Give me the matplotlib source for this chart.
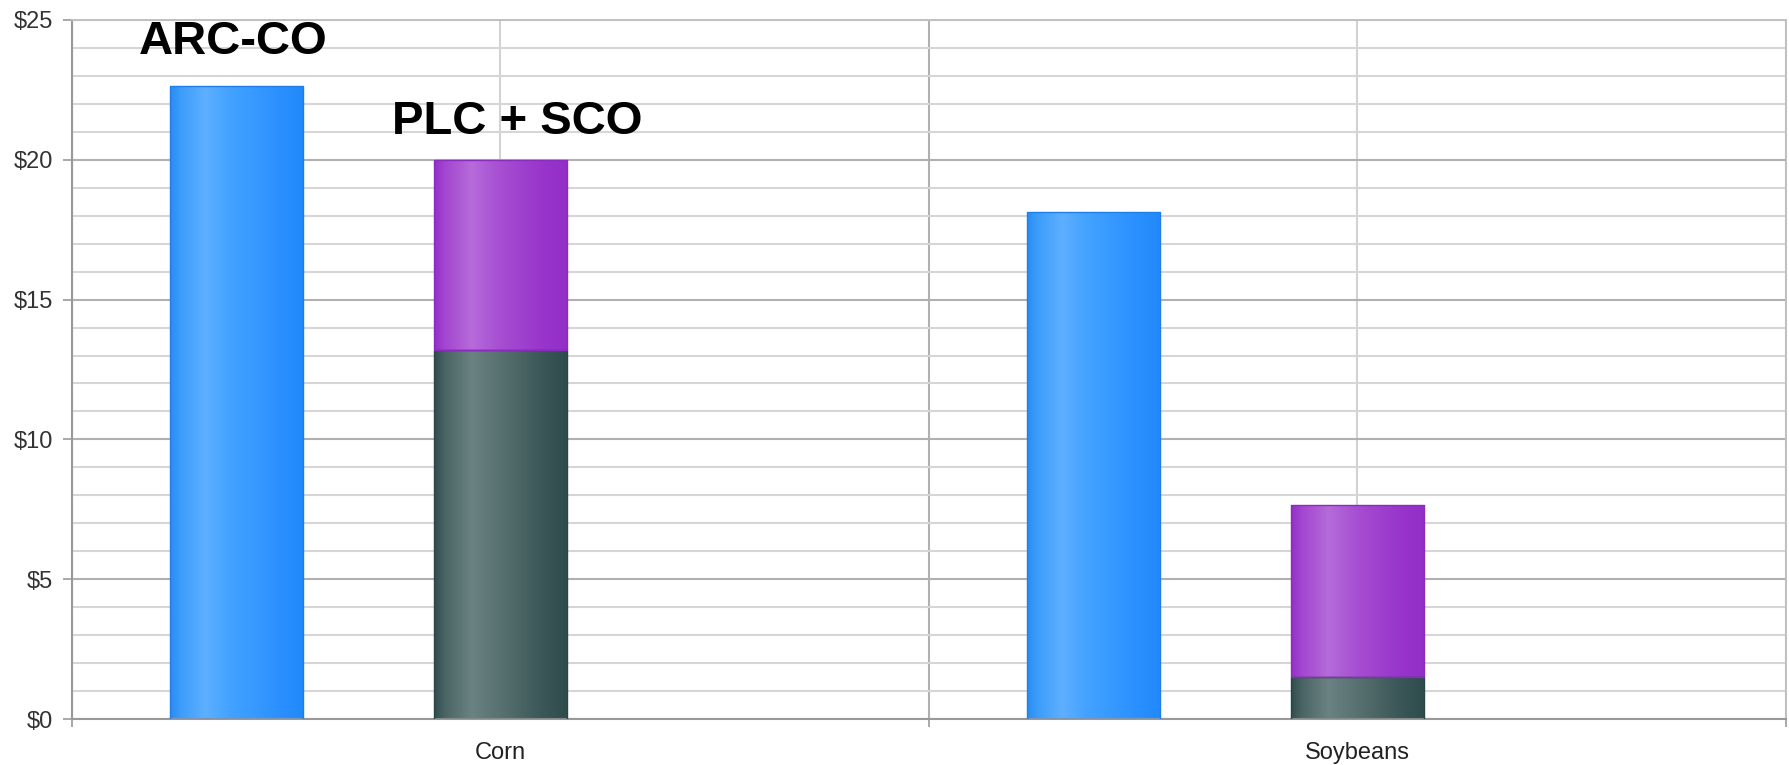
import numpy as np
import matplotlib
matplotlib.use("Agg")
import matplotlib.pyplot as plt
from matplotlib.colors import LinearSegmentedColormap
from matplotlib.ticker import MultipleLocator, FixedLocator, FixedFormatter

# ---- data -------------------------------------------------------------
crops = ["Corn", "Soybeans"]
arc_co = [22.65, 18.15]          # ARC-CO payment, $/acre
plc_base = [13.2, 1.52]          # PLC portion of the stacked bar
sco_add = [6.8, 6.13]            # SCO added on top of PLC
program_labels = ["ARC-CO", "PLC + SCO"]
y_ticks = [0, 5, 10, 15, 20, 25]
y_tick_labels = ["$0", "$5", "$10", "$15", "$20", "$25"]

plt.rcParams["font.family"] = ["Liberation Sans", "DejaVu Sans"]

fig = plt.figure(figsize=(17.9, 7.65), dpi=100)
ax = fig.add_axes([72 / 1790, 46 / 765, 1714 / 1790, 699 / 765])

x = np.arange(len(crops))
bar_w = 0.156
arc_off = -0.308


def shaded(stops):
    return LinearSegmentedColormap.from_list("shade", stops)


blue_shade = shaded([(0.0, "#2a8cf2"), (0.08, "#3d9dfb"), (0.26, "#5eafff"),
                     (0.45, "#43a2ff"), (0.8, "#2c91ff"), (1.0, "#2189fa")])
purple_shade = shaded([(0.0, "#9430c9"), (0.08, "#a346d0"), (0.28, "#b56bd9"),
                       (0.5, "#a64ed2"), (0.82, "#9834cb"), (1.0, "#922fc6")])
slate_shade = shaded([(0.0, "#2f4d4d"), (0.08, "#4a6464"), (0.28, "#6b8282"),
                      (0.5, "#587070"), (0.82, "#3a5656"), (1.0, "#2f4c4c")])

grad = np.linspace(0, 1, 256).reshape(1, -1)


def paint(bars, cmap, edge):
    for p in bars:
        p.set_facecolor("none")
        p.set_edgecolor(edge)
        p.set_linewidth(1.0)
        x0, y0 = p.get_x(), p.get_y()
        w, h = p.get_width(), p.get_height()
        im = ax.imshow(grad, cmap=cmap, aspect="auto", interpolation="bilinear",
                       extent=[x0, x0 + w, y0, y0 + h], zorder=2)
        im.set_clip_path(p)


b_arc = ax.bar(x + arc_off, arc_co, bar_w, zorder=3)
b_plc = ax.bar(x, plc_base, bar_w, zorder=3)
b_sco = ax.bar(x, sco_add, bar_w, bottom=plc_base, zorder=3)
paint(b_arc, blue_shade, "#1f7fe6")
paint(b_plc, slate_shade, "#2b4545")
paint(b_sco, purple_shade, "#8a2cbd")

# program labels above the corn bars
ax.annotate(program_labels[0], xy=(x[0] + arc_off, arc_co[0]),
            xytext=(-2.7, 22.7), textcoords="offset points",
            ha="center", va="baseline", fontsize=34, fontweight="bold",
            color="black", zorder=5)
ax.annotate(program_labels[1], xy=(x[0], plc_base[0] + sco_add[0]),
            xytext=(12.4, 18.3), textcoords="offset points",
            ha="center", va="baseline", fontsize=34, fontweight="bold",
            color="black", zorder=5)

# ---- axes -------------------------------------------------------------
ax.set_xlim(-0.5, len(crops) - 0.5)
ax.set_ylim(0, 25)

ax.yaxis.set_major_locator(FixedLocator(y_ticks))
ax.yaxis.set_major_formatter(FixedFormatter(y_tick_labels))
ax.yaxis.set_minor_locator(MultipleLocator(1))

ax.xaxis.set_major_locator(FixedLocator(np.arange(len(crops) + 1) - 0.5))
ax.xaxis.set_major_formatter(FixedFormatter([""] * (len(crops) + 1)))
ax.xaxis.set_minor_locator(FixedLocator(x))
ax.xaxis.set_minor_formatter(FixedFormatter(crops))

ax.tick_params(axis="y", which="major", direction="out", length=6.5, width=1.2,
               color="#999999", pad=7, labelsize=17, labelcolor="#333333")
ax.tick_params(axis="y", which="minor", length=0)
ax.tick_params(axis="x", which="major", direction="out", length=6, width=1.2,
               color="#999999")
ax.tick_params(axis="x", which="minor", length=0, pad=16.5, labelsize=17,
               labelcolor="#222222")

ax.grid(axis="y", which="major", color="#b0b0b0", linewidth=1.5, zorder=0)
ax.grid(axis="y", which="minor", color="#d6d6d6", linewidth=1.5, zorder=0)
ax.grid(axis="x", which="major", color="#b0b0b0", linewidth=1.5, zorder=0)
ax.grid(axis="x", which="minor", color="#d2d2d2", linewidth=1.5, zorder=0)
ax.set_axisbelow(True)

for side in ["left", "bottom"]:
    ax.spines[side].set_color("#999999")
    ax.spines[side].set_linewidth(1.5)
for side in ["right", "top"]:
    ax.spines[side].set_color("#c0c0c0")
    ax.spines[side].set_linewidth(1.4)

fig.savefig("out.png", dpi=100)
